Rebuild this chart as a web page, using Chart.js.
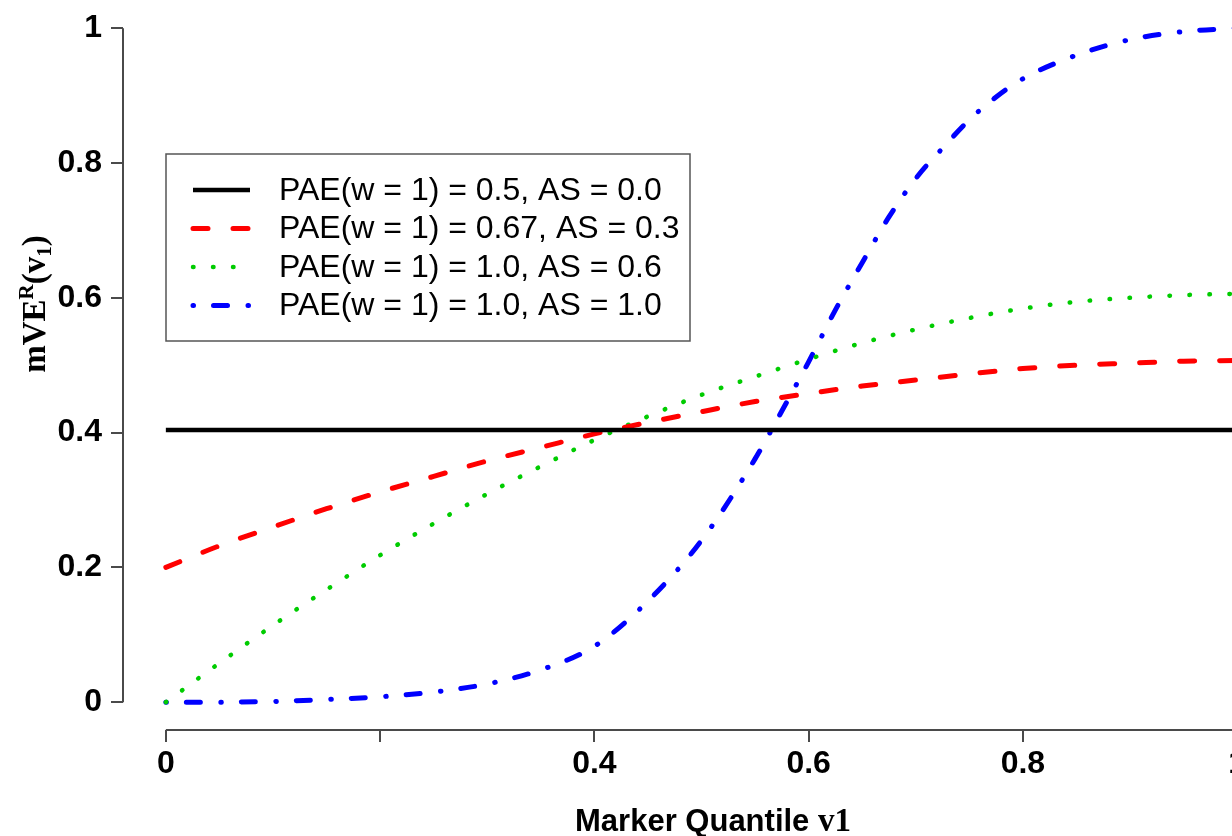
<!DOCTYPE html>
<html>
<head>
<meta charset="utf-8">
<script src="https://cdn.jsdelivr.net/npm/chart.js@4/dist/chart.umd.min.js"></script>
<style>
  html, body { margin: 0; padding: 0; overflow: hidden; background: #fff; }
  canvas { display: block; }
</style>
</head>
<body>
<canvas id="chart" width="1290" height="836"></canvas>
<script>
// values
const quantiles = [0, 0.05, 0.1, 0.15, 0.2, 0.25, 0.3, 0.35, 0.4, 0.45, 0.5,
                   0.55, 0.6, 0.65, 0.7, 0.75, 0.8, 0.85, 0.9, 0.95, 1];

const flatX = [0, 1];
const flatY = [0.404, 0.404];

const redY = [0.200, 0.232, 0.260, 0.287, 0.312, 0.335, 0.358, 0.378, 0.398, 0.415, 0.431,
              0.446, 0.458, 0.469, 0.478, 0.487, 0.495, 0.500, 0.503, 0.506, 0.507];

const greenY = [0.000, 0.058, 0.114, 0.167, 0.218, 0.265, 0.309, 0.350, 0.389, 0.424, 0.456,
                0.483, 0.509, 0.533, 0.553, 0.570, 0.584, 0.594, 0.600, 0.604, 0.606];

const blueX = [0, 0.05, 0.1, 0.15, 0.2, 0.25, 0.3, 0.35, 0.4, 0.45, 0.5, 0.55, 0.575,
               0.6, 0.625, 0.65, 0.675, 0.7, 0.725, 0.75, 0.775, 0.8, 0.85, 0.9, 0.95, 1];
const blueY = [0.000, 0.000, 0.001, 0.004, 0.008, 0.015, 0.027, 0.048, 0.083, 0.150, 0.240, 0.361, 0.432,
               0.505, 0.582, 0.652, 0.720, 0.777, 0.822, 0.864, 0.898, 0.925, 0.960, 0.983, 0.995, 1.000];

const seriesLabels = [
  'PAE(w = 1) = 0.5, AS = 0.0',
  'PAE(w = 1) = 0.67, AS = 0.3',
  'PAE(w = 1) = 1.0, AS = 0.6',
  'PAE(w = 1) = 1.0, AS = 1.0'
];

const xTicks = [0, 0.2, 0.4, 0.6, 0.8, 1];
const xTickLabels = ['0', '', '0.4', '0.6', '0.8', '1'];
const yTicks = [0, 0.2, 0.4, 0.6, 0.8, 1];
const yTickLabels = ['0', '0.2', '0.4', '0.6', '0.8', '1'];

const toPoints = (xs, ys) => xs.map((x, i) => ({ x: x, y: ys[i] }));

const SANS = "'Liberation Sans', Arial, sans-serif";
const SERIF = "'Liberation Serif', 'Times New Roman', serif";
const axisColor = '#4a4a4a';

// draws a run of text pieces with their own fonts / baseline shifts, centred at 0
function richText(ctx, parts) {
  let total = 0;
  parts.forEach(p => { ctx.font = p.font; p.w = ctx.measureText(p.text).width; total += p.w; });
  let x = -total / 2;
  parts.forEach(p => {
    ctx.font = p.font;
    ctx.fillText(p.text, x, p.dy || 0);
    x += p.w;
  });
}

const rStyle = {
  id: 'rStyle',
  afterDatasetsDraw(chart) {
    // legend box
    const ctx = chart.ctx;
    const box = { left: 166, top: 154, width: 524, height: 187 };
    ctx.save();
    ctx.fillStyle = '#fff';
    ctx.fillRect(box.left, box.top, box.width, box.height);
    ctx.strokeStyle = '#555';
    ctx.lineWidth = 1.5;
    ctx.strokeRect(box.left, box.top, box.width, box.height);
    chart.data.datasets.forEach((ds, i) => {
      const y = box.top + 36 + i * 38.5;
      ctx.beginPath();
      ctx.setLineDash(ds.borderDash || []);
      ctx.lineCap = ds.borderCapStyle || 'butt';
      ctx.strokeStyle = ds.borderColor;
      ctx.lineWidth = ds.borderWidth;
      ctx.moveTo(193, y);
      ctx.lineTo(250, y);
      ctx.stroke();
      ctx.setLineDash([]);
      ctx.fillStyle = '#000';
      ctx.font = '32px ' + SANS;
      ctx.textBaseline = 'middle';
      ctx.textAlign = 'left';
      ctx.fillText(ds.label, 279, y + 1);
    });
    ctx.restore();
  },
  afterDraw(chart) {
    const ctx = chart.ctx;
    const xs = chart.scales.x, ys = chart.scales.y;
    const area = chart.chartArea;
    ctx.save();
    // axis lines only across the tick range, R style
    ctx.strokeStyle = axisColor;
    ctx.lineWidth = 2;
    ctx.beginPath();
    ctx.moveTo(area.left, ys.getPixelForValue(0));
    ctx.lineTo(area.left, ys.getPixelForValue(1));
    ctx.moveTo(xs.getPixelForValue(0), area.bottom);
    ctx.lineTo(xs.getPixelForValue(1), area.bottom);
    ctx.stroke();

    // axis titles
    ctx.fillStyle = '#000';
    ctx.textAlign = 'left';
    ctx.textBaseline = 'alphabetic';
    ctx.save();
    ctx.translate(713, 831);
    richText(ctx, [
      { text: 'Marker Quantile ', font: 'bold 31px ' + SANS },
      { text: 'v1', font: 'bold 33px ' + SERIF }
    ]);
    ctx.restore();

    ctx.save();
    ctx.translate(45, 304);
    ctx.rotate(-Math.PI / 2);
    richText(ctx, [
      { text: 'mVE', font: 'bold 33px ' + SERIF },
      { text: 'R', font: 'bold 21px ' + SERIF, dy: -12 },
      { text: '(v', font: 'bold 33px ' + SERIF },
      { text: '1', font: 'bold 21px ' + SERIF, dy: 6 },
      { text: ')', font: 'bold 33px ' + SERIF }
    ]);
    ctx.restore();
    ctx.restore();
  }
};

const tickFont = { family: SANS, size: 32, weight: 'bold' };

new Chart(document.getElementById('chart'), {
  type: 'line',
  data: {
    datasets: [
      {
        label: seriesLabels[0],
        data: toPoints(flatX, flatY),
        borderColor: '#000000',
        borderWidth: 4.5,
        borderCapStyle: 'butt'
      },
      {
        label: seriesLabels[1],
        data: toPoints(quantiles, redY),
        borderColor: '#ff0000',
        borderWidth: 5,
        borderDash: [15, 25],
        borderCapStyle: 'round',
        cubicInterpolationMode: 'monotone'
      },
      {
        label: seriesLabels[2],
        data: toPoints(quantiles, greenY),
        borderColor: '#00cc00',
        borderWidth: 4.5,
        borderDash: [0.5, 19.5],
        borderCapStyle: 'round',
        cubicInterpolationMode: 'monotone'
      },
      {
        label: seriesLabels[3],
        data: toPoints(blueX, blueY),
        borderColor: '#0000ff',
        borderWidth: 5,
        borderDash: [0.5, 20, 14, 20.5],
        borderCapStyle: 'round',
        cubicInterpolationMode: 'monotone'
      }
    ]
  },
  options: {
    responsive: false,
    animation: false,
    devicePixelRatio: 1,
    events: [],
    clip: false,
    elements: { point: { radius: 0 } },
    layout: { padding: { top: 23.5, right: 10, bottom: 0, left: 0 } },
    scales: {
      x: {
        type: 'linear',
        min: -0.04,
        max: 1.04,
        afterBuildTicks: s => { s.ticks = xTicks.map(v => ({ value: v })); },
        afterFit: s => { s.height = 106; },
        border: { display: false },
        grid: { drawOnChartArea: false, drawTicks: true, tickLength: 12, color: axisColor, lineWidth: 2 },
        ticks: {
          autoSkip: false,
          maxRotation: 0,
          padding: 3,
          color: '#000',
          font: tickFont,
          callback: (v, i) => xTickLabels[i]
        }
      },
      y: {
        type: 'linear',
        min: -0.0413,
        max: 1,
        afterBuildTicks: s => { s.ticks = yTicks.map(v => ({ value: v })); },
        afterFit: s => { s.width = 123; },
        border: { display: false },
        grid: { drawOnChartArea: false, drawTicks: true, tickLength: 12, color: axisColor, lineWidth: 2 },
        ticks: {
          autoSkip: false,
          padding: 9,
          color: '#000',
          font: tickFont,
          callback: (v, i) => yTickLabels[i]
        }
      }
    },
    plugins: {
      legend: { display: false },
      tooltip: { enabled: false }
    }
  },
  plugins: [rStyle]
});
</script>
</body>
</html>
